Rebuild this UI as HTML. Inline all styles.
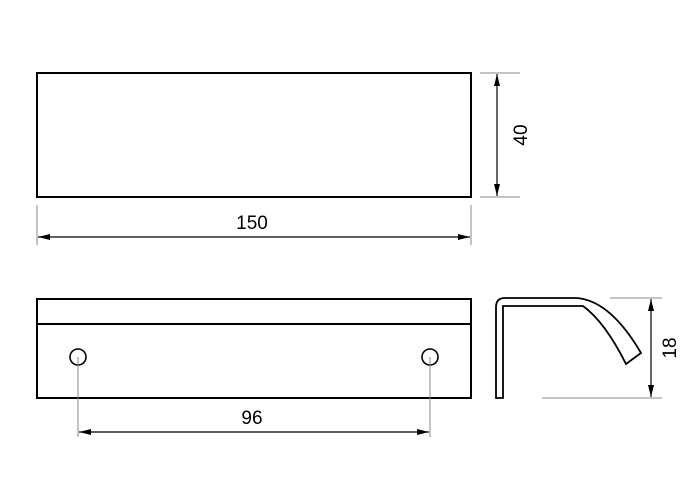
<!DOCTYPE html>
<html><head><meta charset="utf-8"><style>body{margin:0;background:#fff}svg{display:block}</style></head><body>
<svg width="700" height="500" viewBox="0 0 700 500" xmlns="http://www.w3.org/2000/svg">
<defs>
<marker id="a" viewBox="0 0 12 6" refX="12" refY="3" markerWidth="12" markerHeight="6" orient="auto-start-reverse" markerUnits="userSpaceOnUse"><path d="M0,0L12,3L0,6z" fill="#000"/></marker>
</defs>
<g fill="none" stroke="#000" stroke-width="2">
<rect x="37" y="73" width="434" height="124"/>
<rect x="37" y="299" width="434" height="99"/>
<line x1="37" y1="324" x2="471" y2="324"/>
<circle cx="78" cy="357" r="8" stroke-width="1.6"/>
<circle cx="430" cy="357" r="8" stroke-width="1.6"/>
<path d="M496,398 L496,307 Q496,298 505,298 L576,298 Q610,300 641,353 L626,364 Q605,322 583,306 L505,306 L503,306 L503,398 Z" stroke-width="1.8"/>
</g>
<g stroke="#888" stroke-width="1">
<line x1="480" y1="73" x2="520" y2="73"/>
<line x1="480" y1="197" x2="520" y2="197"/>
<line x1="37" y1="205" x2="37" y2="245"/>
<line x1="471" y1="205" x2="471" y2="245"/>
<line x1="610" y1="298" x2="662" y2="298"/>
<line x1="542" y1="398" x2="662" y2="398"/>
<line x1="78" y1="357" x2="78" y2="437"/>
<line x1="430" y1="357" x2="430" y2="437"/>
</g>
<g stroke="#000" stroke-width="1.2">
<line x1="497" y1="74" x2="497" y2="196" marker-start="url(#a)" marker-end="url(#a)"/>
<line x1="38" y1="237" x2="470" y2="237" marker-start="url(#a)" marker-end="url(#a)"/>
<line x1="651" y1="299" x2="651" y2="397" marker-start="url(#a)" marker-end="url(#a)"/>
<line x1="79" y1="432" x2="429" y2="432" marker-start="url(#a)" marker-end="url(#a)"/>
</g>
<g font-family="Liberation Sans, sans-serif" font-size="19" fill="#000" text-anchor="middle">
<text x="252" y="229">150</text>
<text x="252" y="424">96</text>
<text transform="translate(527,135) rotate(-90)">40</text>
<text transform="translate(676,348) rotate(-90)">18</text>
</g>
</svg>
</body></html>
